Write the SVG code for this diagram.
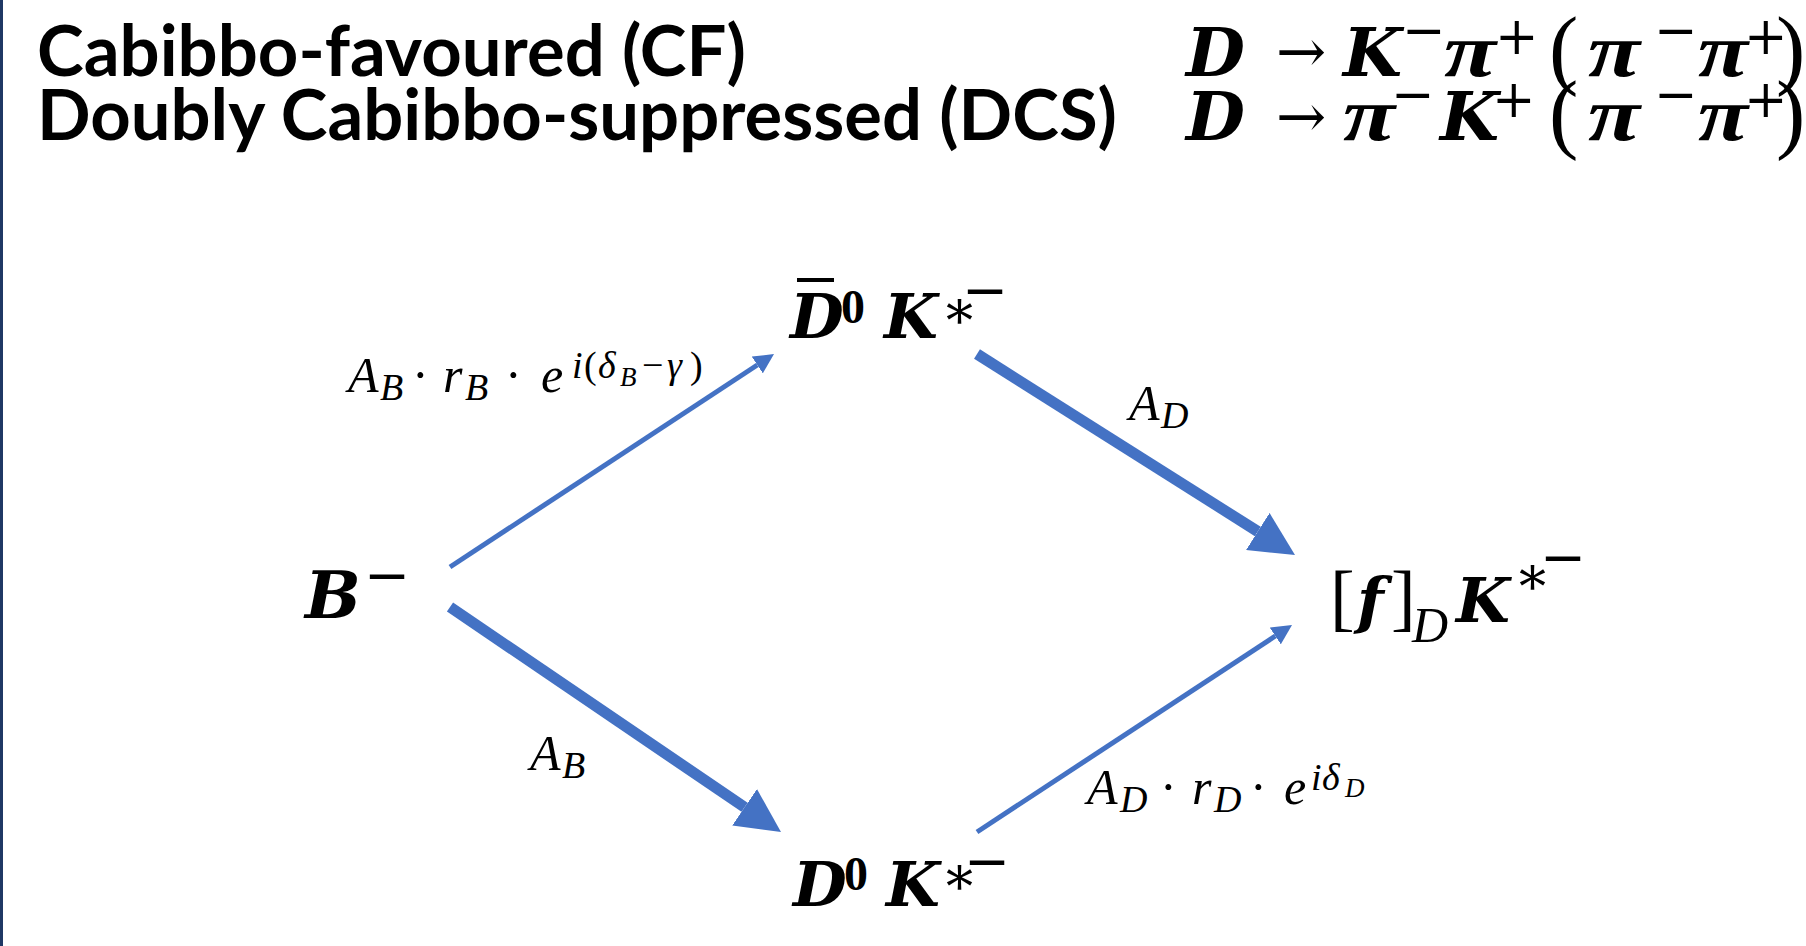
<svg xmlns="http://www.w3.org/2000/svg" width="1806" height="946" viewBox="0 0 1806 946">
<defs>
<style>
.hd{font-family:Lato,"Open Sans",sans-serif;font-weight:700;font-size:70px;fill:#000}
.m{font-family:"Liberation Serif",serif;fill:#000}
.bi{font-family:"DejaVu Serif",serif;font-weight:700;font-style:italic}
.pi{font-family:"Liberation Serif",serif;font-weight:700;font-style:italic;font-size:76px}
.dv{font-family:"DejaVu Serif",serif;font-weight:400;font-style:normal}
.lb{font-family:"Liberation Serif",serif;font-weight:700;font-style:normal;font-size:48px}
.it{font-style:italic}
.up{font-style:normal}
.big{font-size:68px}
.sup{font-size:52px}
.par{font-family:"Liberation Serif",serif;font-size:88px;font-weight:400;font-style:normal}
.arr{font-size:60px}
.node{font-size:62px}
.nsup{font-size:55px}
.ast{font-size:54px}
.lab{font-size:50px}
.lsub{font-size:38px}
.lss{font-size:27px}
.conn{stroke:#4472C4;fill:none;stroke-linecap:butt}
</style>
<marker id="ah" viewBox="0 -2 4 4" refX="0" refY="0" markerWidth="4" markerHeight="4" markerUnits="strokeWidth" orient="auto">
<path d="M0,-2 L4,0 L0,2 z" fill="#4472C4"/>
</marker>
</defs>
<rect x="0" y="0" width="1806" height="946" fill="#fff"/>
<rect x="0" y="0" width="3" height="946" fill="#1F3864"/>

<g id="heading-cf">
<text class="hd" x="37" y="76" textLength="709" lengthAdjust="spacingAndGlyphs">Cabibbo-favoured (CF)</text>
</g>
<g id="heading-dcs">
<text class="hd" x="37" y="140" textLength="1080" lengthAdjust="spacingAndGlyphs">Doubly Cabibbo-suppressed (DCS)</text>
</g>

<g id="formula-cf">
<text class="m big"><tspan class="bi" x="1186" y="76">D</tspan><tspan class="dv arr" x="1276" y="72">→</tspan><tspan class="bi" x="1343" y="76">K</tspan><tspan class="dv sup" x="1402" y="48">−</tspan><tspan class="pi" x="1444" y="76" textLength="52" lengthAdjust="spacingAndGlyphs">π</tspan><tspan class="dv sup" x="1495" y="54">+</tspan><tspan class="par" x="1549" y="78">(</tspan><tspan class="pi" x="1588" y="76" textLength="52" lengthAdjust="spacingAndGlyphs">π</tspan><tspan class="dv sup" x="1654" y="48">−</tspan><tspan class="pi" x="1698" y="76" textLength="50" lengthAdjust="spacingAndGlyphs">π</tspan><tspan class="dv sup" x="1744" y="54">+</tspan><tspan class="par" x="1776" y="78">)</tspan></text>
</g>
<g id="formula-dcs">
<text class="m big"><tspan class="bi" x="1186" y="140">D</tspan><tspan class="dv arr" x="1276" y="137">→</tspan><tspan class="pi" x="1343" y="140" textLength="52" lengthAdjust="spacingAndGlyphs">π</tspan><tspan class="dv sup" x="1391" y="112">−</tspan><tspan class="bi" x="1440" y="140">K</tspan><tspan class="dv sup" x="1492" y="117">+</tspan><tspan class="par" x="1549" y="142">(</tspan><tspan class="pi" x="1588" y="140" textLength="52" lengthAdjust="spacingAndGlyphs">π</tspan><tspan class="dv sup" x="1654" y="112">−</tspan><tspan class="pi" x="1698" y="140" textLength="50" lengthAdjust="spacingAndGlyphs">π</tspan><tspan class="dv sup" x="1744" y="117">+</tspan><tspan class="par" x="1776" y="142">)</tspan></text>
</g>

<g id="connectors">
<path class="conn" stroke-width="5" d="M450,567 L757.3,365" marker-end="url(#ah)"/>
<path class="conn" stroke-width="11" d="M977,354 L1257.8,531.5" marker-end="url(#ah)"/>
<path class="conn" stroke-width="11" d="M450,607 L744.6,807.3" marker-end="url(#ah)"/>
<path class="conn" stroke-width="5" d="M977,832 L1275.3,636" marker-end="url(#ah)"/>
</g>

<g id="node-b">
<text class="m node"><tspan class="bi" style="font-size:66px" x="305" y="618">B</tspan><tspan class="dv nsup" x="364" y="594">−</tspan></text>
</g>

<g id="node-dbar">
<line x1="797" y1="280" x2="834" y2="280" stroke="#000" stroke-width="4"/>
<text class="m node"><tspan class="bi" x="790" y="338">D</tspan><tspan class="lb" x="841" y="323">0</tspan><tspan class="bi" x="884" y="338">K</tspan><tspan class="dv ast" x="946" y="340">*</tspan><tspan class="dv nsup" x="962" y="309">−</tspan></text>
</g>

<g id="node-f">
<text class="m node"><tspan class="par" style="font-size:74px" x="1330" y="622">[</tspan><tspan class="bi" x="1357" y="622">f</tspan><tspan class="par" style="font-size:74px" x="1391" y="622">]</tspan><tspan class="it" style="font-size:50px" x="1412" y="642">D</tspan><tspan class="bi" x="1456" y="622">K</tspan><tspan class="dv ast" x="1519" y="606">*</tspan><tspan class="dv nsup" x="1540" y="576">−</tspan></text>
</g>

<g id="node-d0">
<text class="m node"><tspan class="bi" x="793" y="906">D</tspan><tspan class="lb" x="844" y="890">0</tspan><tspan class="bi" x="886" y="906">K</tspan><tspan class="dv ast" x="946" y="906">*</tspan><tspan class="dv nsup" x="964" y="880">−</tspan></text>
</g>

<g id="label-ab-rb">
<text class="m lab it"><tspan x="348" y="392">A</tspan><tspan class="lsub" x="380" y="400">B</tspan><tspan class="up" x="412" y="392">·</tspan><tspan x="443" y="392">r</tspan><tspan class="lsub" x="465" y="400">B</tspan><tspan class="up" x="505" y="392">·</tspan><tspan x="541" y="392">e</tspan><tspan class="lsub" x="572" y="378">i</tspan><tspan class="lsub up" x="584" y="378">(</tspan><tspan class="lsub" x="598" y="378">δ</tspan><tspan class="lss" x="620" y="386">B</tspan><tspan class="lsub up" x="642" y="378">−</tspan><tspan class="lsub" x="667" y="378">γ</tspan><tspan class="lsub up" x="690" y="378">)</tspan></text>
</g>

<g id="label-ad">
<text class="m lab it"><tspan x="1129" y="420">A</tspan><tspan class="lsub" x="1161" y="428">D</tspan></text>
</g>

<g id="label-ab">
<text class="m lab it"><tspan x="530" y="770">A</tspan><tspan class="lsub" x="562" y="778">B</tspan></text>
</g>

<g id="label-ad-rd">
<text class="m lab it"><tspan x="1087" y="804">A</tspan><tspan class="lsub" x="1120" y="812">D</tspan><tspan class="up" x="1160" y="804">·</tspan><tspan x="1192" y="804">r</tspan><tspan class="lsub" x="1214" y="812">D</tspan><tspan class="up" x="1250" y="804">·</tspan><tspan x="1284" y="804">e</tspan><tspan class="lsub" x="1311" y="790">i</tspan><tspan class="lsub" x="1322" y="790">δ</tspan><tspan class="lss" x="1345" y="797">D</tspan></text>
</g>
</svg>
